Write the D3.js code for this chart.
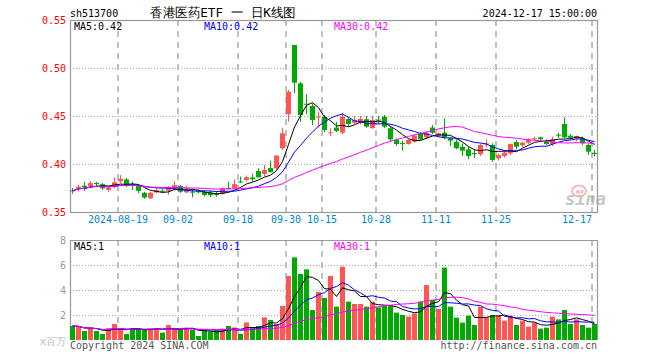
<!DOCTYPE html>
<html><head><meta charset="utf-8">
<script src="https://cdn.jsdelivr.net/npm/d3@7"></script>
<style>
html,body{margin:0;padding:0;background:#fff;}
svg{display:block;}
text{font-family:"DejaVu Sans Mono",monospace;}
</style></head>
<body>
<svg id="chart" width="660" height="360"></svg>
<script>
const dates = ["2024-08-07","2024-08-08","2024-08-09","2024-08-12","2024-08-13","2024-08-14","2024-08-15","2024-08-16",
"2024-08-19","2024-08-20","2024-08-21","2024-08-22","2024-08-23","2024-08-26","2024-08-27","2024-08-28","2024-08-29","2024-08-30",
"2024-09-02","2024-09-03","2024-09-04","2024-09-05","2024-09-06","2024-09-09","2024-09-10","2024-09-11","2024-09-12","2024-09-13",
"2024-09-18","2024-09-19","2024-09-20","2024-09-23","2024-09-24","2024-09-25","2024-09-26","2024-09-27","2024-09-30",
"2024-10-08","2024-10-09","2024-10-10","2024-10-11","2024-10-14","2024-10-15","2024-10-16","2024-10-17","2024-10-18",
"2024-10-21","2024-10-22","2024-10-23","2024-10-24","2024-10-25","2024-10-28","2024-10-29","2024-10-30","2024-10-31","2024-11-01",
"2024-11-04","2024-11-05","2024-11-06","2024-11-07","2024-11-08","2024-11-11","2024-11-12","2024-11-13","2024-11-14","2024-11-15",
"2024-11-18","2024-11-19","2024-11-20","2024-11-21","2024-11-22","2024-11-25","2024-11-26","2024-11-27","2024-11-28","2024-11-29",
"2024-12-02","2024-12-03","2024-12-04","2024-12-05","2024-12-06","2024-12-09","2024-12-10","2024-12-11","2024-12-12","2024-12-13",
"2024-12-16","2024-12-17"];

const open  = [0.3725,0.3743,0.3774,0.3770,0.3802,0.3790,0.3730,0.3760,0.3820,0.3840,0.3790,0.3770,0.3700,0.3643,0.3705,0.3722,0.3720,0.3753,
0.3770,0.3705,0.3712,0.3720,0.3710,0.3700,0.3690,0.3688,0.3750,0.3747,0.3819,0.3833,0.3860,0.3927,0.3896,0.3958,0.3955,0.4164,0.4520,
0.5240,0.4840,0.4628,0.4604,0.4490,0.4490,0.4328,0.4380,0.4326,0.4469,0.4430,0.4430,0.4466,0.4372,0.4462,0.4493,0.4372,0.4250,0.4218,
0.4208,0.4232,0.4312,0.4278,0.4380,0.4290,0.4326,0.4268,0.4232,0.4180,0.4153,0.4114,0.4101,0.4212,0.4198,0.4059,0.4083,0.4111,0.4229,0.4195,
0.4222,0.4265,0.4278,0.4232,0.4208,0.4305,0.4417,0.4295,0.4268,0.4268,0.4198,0.4114];
const high  = [0.3750,0.3784,0.3816,0.3820,0.3815,0.3800,0.3764,0.3860,0.3885,0.3855,0.3816,0.3785,0.3710,0.3710,0.3745,0.3738,0.3770,0.3820,
0.3780,0.3773,0.3743,0.3733,0.3725,0.3725,0.3715,0.3757,0.3816,0.3840,0.3868,0.3880,0.3900,0.3955,0.3990,0.4035,0.4094,0.4378,0.4770,
0.5240,0.4855,0.4730,0.4630,0.4545,0.4510,0.4370,0.4440,0.4535,0.4486,0.4500,0.4500,0.4500,0.4500,0.4500,0.4510,0.4389,0.4267,0.4243,
0.4257,0.4312,0.4337,0.4337,0.4406,0.4326,0.4476,0.4278,0.4257,0.4215,0.4180,0.4153,0.4215,0.4257,0.4215,0.4111,0.4146,0.4215,0.4250,0.4232,
0.4267,0.4285,0.4285,0.4257,0.4285,0.4326,0.4486,0.4312,0.4295,0.4285,0.4215,0.4146];
const low   = [0.3690,0.3711,0.3720,0.3747,0.3770,0.3730,0.3711,0.3747,0.3800,0.3760,0.3730,0.3695,0.3640,0.3635,0.3695,0.3703,0.3680,0.3720,
0.3700,0.3695,0.3653,0.3695,0.3660,0.3653,0.3660,0.3680,0.3738,0.3740,0.3800,0.3816,0.3816,0.3861,0.3870,0.3910,0.3940,0.4146,0.4440,
0.4740,0.4440,0.4520,0.4406,0.4380,0.4333,0.4290,0.4333,0.4310,0.4389,0.4417,0.4410,0.4380,0.4372,0.4417,0.4372,0.4233,0.4187,0.4139,
0.4201,0.4222,0.4250,0.4257,0.4312,0.4278,0.4257,0.4187,0.4153,0.4083,0.4049,0.4062,0.4083,0.4173,0.4024,0.4035,0.4066,0.4094,0.4153,0.4173,
0.4210,0.4243,0.4236,0.4198,0.4187,0.4271,0.4268,0.4257,0.4236,0.4198,0.4094,0.4077];
const close = [0.3720,0.3764,0.3757,0.3800,0.3798,0.3747,0.3753,0.3810,0.3847,0.3780,0.3775,0.3720,0.3650,0.3700,0.3730,0.3720,0.3747,0.3780,
0.3711,0.3730,0.3710,0.3705,0.3677,0.3675,0.3677,0.3747,0.3747,0.3790,0.3816,0.3861,0.3840,0.3861,0.3938,0.3917,0.4087,0.4320,0.4753,
0.4847,0.4510,0.4625,0.4458,0.4493,0.4354,0.4330,0.4344,0.4493,0.4417,0.4458,0.4470,0.4389,0.4458,0.4458,0.4389,0.4257,0.4208,0.4215,
0.4250,0.4295,0.4257,0.4326,0.4326,0.4320,0.4278,0.4243,0.4164,0.4139,0.4083,0.4111,0.4198,0.4215,0.4042,0.4094,0.4118,0.4208,0.4180,0.4222,
0.4250,0.4268,0.4257,0.4208,0.4257,0.4302,0.4278,0.4274,0.4292,0.4215,0.4128,0.4111];
const volume = [1.12,1.07,0.72,0.93,0.72,0.48,0.93,1.28,0.93,0.48,
0.93,0.93,0.85,0.93,0.93,0.59,1.20,0.90,0.85,1.00,
0.80,0.32,0.75,0.67,0.75,0.90,1.12,1.00,0.48,1.41,
1.00,1.12,1.81,1.60,1.28,2.72,5.12,6.61,5.28,5.65,
2.40,3.84,3.36,5.12,2.67,5.87,3.07,2.88,2.88,2.67,
3.07,2.61,2.72,2.72,2.19,2.00,1.87,2.13,3.07,4.40,
3.20,2.48,5.79,2.67,1.79,1.39,1.95,1.20,2.67,1.81,
2.00,1.95,1.55,1.95,1.20,1.55,1.07,1.39,0.91,0.99,
1.87,1.65,2.40,1.28,1.65,1.20,0.99,1.28];

const priceTicks = [0.35,0.40,0.45,0.50,0.55];
const volTicks = [2,4,6,8];
const labelDates = ["2024-08-19","2024-09-02","2024-09-18","2024-09-30","2024-10-15","2024-10-28","2024-11-11","2024-11-25","2024-12-17"];
const maPeriods = [5,10,30];
const maColors = ["#000000","#0000ff","#ff00ff"];
const title = "香港医药ETF 一 日K线图";
const code = "sh513700";
const stamp = "2024-12-17 15:00:00";

const svg = d3.select("#chart");
const L = 70, R = 597, T1 = 20, B1 = 212, T2 = 240, B2 = 340;
const UP = "#ff5555", DN = "#00aa00", GRID = "#aaaaaa";

const x = d3.scaleBand().domain(dates).range([L - 1, R]).paddingInner(0).paddingOuter(0);
const cx = d => x(d) + x.bandwidth() / 2;
const y = d3.scaleLinear().domain([0.35, 0.55]).range([B1, T1]);
const vy = d3.scaleLinear().domain([0, 8]).range([B2, T2]);

function ma(arr, n) {
  return arr.map((v, i) => {
    const s = arr.slice(Math.max(0, i - n + 1), i + 1);
    return d3.mean(s);
  });
}

// header texts
svg.append("text").attr("x", L).attr("y", 17).attr("font-size", 10).attr("fill", "#000").text(code);
svg.append("text").attr("x", 150).attr("y", 16.5).attr("font-size", 13)
  .attr("font-family", "'Noto Sans CJK SC', sans-serif").attr("textLength", 146).attr("lengthAdjust", "spacingAndGlyphs")
  .attr("fill", "#000").text(title);
svg.append("text").attr("x", R).attr("y", 17).attr("text-anchor", "end").attr("font-size", 10).attr("fill", "#000").text(stamp);

// horizontal grid
svg.append("g").selectAll("line").data(priceTicks.filter(t => t > 0.35 && t < 0.55)).join("line")
  .attr("x1", L).attr("x2", R).attr("y1", d => Math.round(y(d)) + 0.5).attr("y2", d => Math.round(y(d)) + 0.5)
  .attr("stroke", GRID).attr("stroke-dasharray", "1,2");
svg.append("g").selectAll("line").data(volTicks.filter(t => t < 8)).join("line")
  .attr("x1", L).attr("x2", R).attr("y1", d => Math.round(vy(d)) + 0.5).attr("y2", d => Math.round(vy(d)) + 0.5)
  .attr("stroke", GRID).attr("stroke-dasharray", "1,2");

// vertical dashed lines
[[T1, B1], [T2, B2]].forEach(([t, b]) => {
  svg.append("g").selectAll("line").data(labelDates).join("line")
    .attr("x1", d => cx(d) - 2).attr("x2", d => cx(d) - 2).attr("y1", t).attr("y2", b)
    .attr("stroke", GRID).attr("stroke-width", 1.5).attr("stroke-dasharray", "6,5");
});

// frames
svg.append("rect").attr("x", L + 0.5).attr("y", T1 + 0.5).attr("width", R - L).attr("height", B1 - T1)
  .attr("fill", "none").attr("stroke", "#999").attr("stroke-width", 1.2);
svg.append("path").attr("d", `M${L + 0.5},${B2}V${T2 + 0.5}H${R + 0.5}V${B2}`)
  .attr("fill", "none").attr("stroke", "#999").attr("stroke-width", 1.2);

// axes
const yAxis = svg.append("g").attr("transform", `translate(${L},0)`)
  .call(d3.axisLeft(y).tickValues(priceTicks).tickFormat(d3.format(".2f")).tickSize(0).tickPadding(4));
yAxis.select(".domain").remove();
yAxis.selectAll("text").attr("fill", "#ff0000").attr("font-size", 10).attr("font-family", "'DejaVu Sans Mono',monospace");

const vAxis = svg.append("g").attr("transform", `translate(${L},0)`)
  .call(d3.axisLeft(vy).tickValues(volTicks).tickFormat(d3.format("d")).tickSize(0).tickPadding(4));
vAxis.select(".domain").remove();
vAxis.selectAll("text").attr("fill", "#999").attr("font-size", 10).attr("font-family", "'DejaVu Sans Mono',monospace");

const xAxis = svg.append("g").attr("transform", `translate(-2,${B1})`)
  .call(d3.axisBottom(x).tickValues(labelDates)
    .tickFormat((d, i) => i === 0 ? d : d.slice(5)).tickSize(0).tickPadding(4));
xAxis.select(".domain").remove();
xAxis.selectAll("text").attr("fill", "#0088cc").attr("font-size", 10).attr("font-family", "'DejaVu Sans Mono',monospace")
  .attr("text-anchor", (d, i) => i === labelDates.length - 1 ? "end" : "middle");

// candles
const idx = d3.range(dates.length);
const cg = svg.append("g");
cg.selectAll("line.wick").data(idx).join("line").attr("class", "wick")
  .attr("x1", i => cx(dates[i]) + 0.5).attr("x2", i => cx(dates[i]) + 0.5)
  .attr("y1", i => y(high[i])).attr("y2", i => y(low[i]))
  .attr("stroke", i => close[i] >= open[i] ? UP : DN).attr("stroke-width", 1);
cg.selectAll("rect.body").data(idx).join("rect").attr("class", "body")
  .attr("x", i => cx(dates[i]) - 2).attr("width", 5)
  .attr("y", i => y(Math.max(open[i], close[i])))
  .attr("height", i => Math.max(1, Math.abs(y(open[i]) - y(close[i]))))
  .attr("fill", i => close[i] >= open[i] ? UP : DN);

// price MAs
maPeriods.forEach((n, k) => {
  const m = ma(close, n);
  svg.append("path").datum(idx)
    .attr("d", d3.line().x(i => cx(dates[i]) + 0.5).y(i => y(m[i])))
    .attr("fill", "none").attr("stroke", maColors[k]).attr("stroke-width", 1);
});

// volume bars
svg.append("g").selectAll("rect").data(idx).join("rect")
  .attr("x", i => cx(dates[i]) - 2).attr("width", 5)
  .attr("y", i => vy(volume[i])).attr("height", i => B2 - vy(volume[i]))
  .attr("fill", i => close[i] >= open[i] ? UP : DN);

maPeriods.forEach((n, k) => {
  const m = ma(volume, n);
  svg.append("path").datum(idx)
    .attr("d", d3.line().x(i => cx(dates[i]) + 0.5).y(i => vy(m[i])))
    .attr("fill", "none").attr("stroke", maColors[k]).attr("stroke-width", 1);
});

// legends
const legX = [74, 204, 334];
maPeriods.forEach((n, k) => {
  const pm = ma(close, n);
  const vm = ma(volume, n);
  svg.append("text").attr("x", legX[k]).attr("y", 29.5).attr("font-size", 10).attr("fill", maColors[k])
    .text(`MA${n}:${pm[pm.length - 1].toFixed(2)}`);
  svg.append("text").attr("x", legX[k]).attr("y", 249.5).attr("font-size", 10).attr("fill", maColors[k])
    .text(`MA${n}:${Math.floor(vm[vm.length - 1])}`);
});

// unit + footer
svg.append("text").attr("x", 66).attr("y", 345).attr("text-anchor", "end").attr("font-size", 10)
  .attr("font-family", "'Noto Sans CJK SC',sans-serif").attr("fill", "#bbb").text("x百万");
svg.append("text").attr("x", L).attr("y", 349).attr("font-size", 10).attr("fill", "#555").text("Copyright 2024 SINA.COM");
svg.append("text").attr("x", R).attr("y", 349).attr("text-anchor", "end").attr("font-size", 10).attr("fill", "#555").text("http://finance.sina.com.cn");

// sina watermark
const wm = svg.append("g").attr("opacity", 0.55);
wm.append("ellipse").attr("cx", 579).attr("cy", 191).attr("rx", 7).attr("ry", 5.5).attr("fill", "none").attr("stroke", "#f08080").attr("stroke-width", 2);
wm.append("circle").attr("cx", 578).attr("cy", 192).attr("r", 2).attr("fill", "#f08080");
wm.append("text").attr("x", 565).attr("y", 205).attr("font-size", 17).attr("font-style", "italic").attr("font-weight", "bold")
  .attr("font-family", "'DejaVu Sans',sans-serif").attr("fill", "#999").text("sina");
</script>
</body></html>
